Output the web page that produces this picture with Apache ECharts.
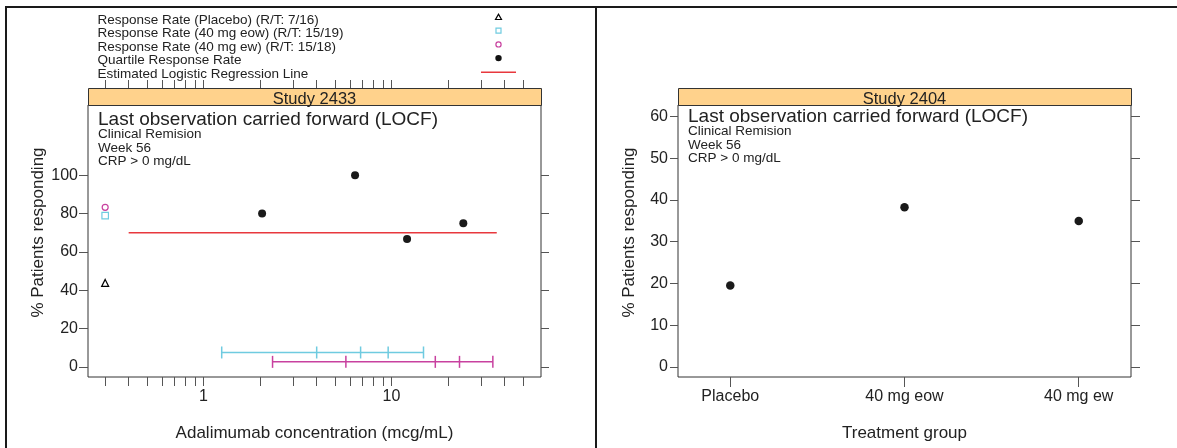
<!DOCTYPE html>
<html><head><meta charset="utf-8">
<script src="https://cdn.jsdelivr.net/npm/echarts@6/dist/echarts.min.js"></script>
<style>html,body{margin:0;padding:0;background:#fff}#c{width:1177px;height:448px}</style>
</head><body><div id="c"></div><script>
// ---------- data ----------
const legendLabels = [
  'Response Rate (Placebo) (R/T: 7/16)',
  'Response Rate (40 mg eow) (R/T: 15/19)',
  'Response Rate (40 mg ew) (R/T: 15/18)',
  'Quartile Response Rate',
  'Estimated Logistic Regression Line'
];
const studyTitles = ['Study 2433', 'Study 2404'];
const annotationLines = ['Last observation carried forward (LOCF)', 'Clinical Remision', 'Week 56', 'CRP > 0 mg/dL'];
const xTitles = ['Adalimumab concentration (mcg/mL)', 'Treatment group'];
const yTitle = '% Patients responding';

const concTickValues = [0.3, 0.4, 0.5, 0.6, 0.7, 0.8, 0.9, 1, 2, 3, 4, 5, 6, 7, 8, 9, 10, 20, 30, 40, 50];
const concLabelValues = [1, 10];
const leftRateTicks = [0, 20, 40, 60, 80, 100];
const rightRateTicks = [0, 10, 20, 30, 40, 50, 60];

const referenceConc = [0.3];
const placeboRate = [43.8];
const eowRate = [78.9];
const ewRate = [83.3];
const quartileConc = [2.05, 6.4, 12.1, 24.1];
const quartileRate = [80, 100, 66.7, 75];
const regressionConc = [0.4, 36.3];
const regressionRate = [70, 70];
const eowQuantiles = [1.25, 4.0, 6.85, 9.6, 14.8];
const eowBarLevel = [7.5];
const ewQuantiles = [2.33, 5.72, 17.1, 23.0, 34.6];
const ewBarLevel = [2.6];

const groupNames = ['Placebo', '40 mg eow', '40 mg ew'];
const groupPositions = [1, 2, 3];
const groupRates = [19.5, 38.3, 35.0];

// ---------- style / layout ----------
const FONT = '"Liberation Sans", Arial, Helvetica, sans-serif';
const INK = '#222';
const AX = '#333';
const TICK = '#555';
const CYAN = '#6fcbe0';
const MAG = '#c8419f';
const RED = '#e8383d';
const STRIP = '#ffd28c';
const P1 = {x: 88, y: 105, w: 453, h: 272};
const P2 = {x: 678, y: 105, w: 453, h: 272};
const STRIP_H = 17;

const chart = echarts.init(document.getElementById('c'), null, {renderer: 'canvas'});

function txt(x, y, s, size, align, extra) {
  return Object.assign({type: 'text', x: x, y: y, silent: true, z: 10,
    style: {text: s, fill: INK, font: size + 'px ' + FONT, textAlign: align || 'left', textVerticalAlign: 'middle'}}, extra || {});
}

const graphics = [];
// outer frame
graphics.push({type: 'line', shape: {x1: 6, y1: 7, x2: 1177, y2: 7}, style: {stroke: '#1a1a1a', lineWidth: 2}});
graphics.push({type: 'line', shape: {x1: 6, y1: 6, x2: 6, y2: 448}, style: {stroke: '#1a1a1a', lineWidth: 2}});
graphics.push({type: 'line', shape: {x1: 596, y1: 6, x2: 596, y2: 448}, style: {stroke: '#1a1a1a', lineWidth: 2}});
// strips
[P1, P2].forEach((p, i) => {
  graphics.push({type: 'rect', shape: {x: p.x + 0.5, y: p.y - STRIP_H + 0.5, width: p.w, height: STRIP_H},
    style: {fill: STRIP, stroke: AX, lineWidth: 1}, z: 1});
  graphics.push(txt(p.x + p.w / 2, p.y - 5.5, studyTitles[i], 16.5, 'center', {z: 2}));
});
// panel annotations
[[P1, 0], [P2, -3]].forEach(([p, dy]) => {
  graphics.push(txt(p.x + 10, 120 + dy, annotationLines[0], 19, 'left'));
  graphics.push(txt(p.x + 10, 134.5 + dy, annotationLines[1], 13.5, 'left'));
  graphics.push(txt(p.x + 10, 148 + dy, annotationLines[2], 13.5, 'left'));
  graphics.push(txt(p.x + 10, 161.5 + dy, annotationLines[3], 13.5, 'left'));
});
// axis titles
graphics.push(txt(P1.x + P1.w / 2, 433, xTitles[0], 17, 'center'));
graphics.push(txt(P2.x + P2.w / 2, 433, xTitles[1], 17, 'center'));
graphics.push(txt(38, 232.5, yTitle, 17, 'center', {rotation: Math.PI / 2}));
graphics.push(txt(629, 232.5, yTitle, 17, 'center', {rotation: Math.PI / 2}));
// legend
const legX = 97.5, symX = 498.5;
legendLabels.forEach((s, i) => graphics.push(txt(legX, 20 + 13.45 * i, s, 13.5, 'left')));
const sy = i => 17 + 13.7 * i;
graphics.push({type: 'polygon', shape: {points: [[symX - 3, sy(0) + 2.5], [symX + 3, sy(0) + 2.5], [symX, sy(0) - 2.8]]},
  style: {fill: 'none', stroke: '#000', lineWidth: 1.2}});
graphics.push({type: 'rect', shape: {x: symX - 2.5, y: sy(1) - 2.5, width: 5, height: 5}, style: {fill: 'none', stroke: CYAN, lineWidth: 1.2}});
graphics.push({type: 'circle', shape: {cx: symX, cy: sy(2), r: 2.6}, style: {fill: 'none', stroke: MAG, lineWidth: 1.2}});
graphics.push({type: 'circle', shape: {cx: symX, cy: sy(3), r: 3.2}, style: {fill: '#111'}});
graphics.push({type: 'line', shape: {x1: 481, y1: sy(4) + 0.5, x2: 516, y2: sy(4) + 0.5}, style: {stroke: RED, lineWidth: 1.5}});

const axisFont = {fontSize: 16, color: INK, fontFamily: FONT};
const tickStyle = {color: TICK, width: 1};
const noLine = {show: false, onZero: false};

const option = {
  animation: false,
  backgroundColor: '#fff',
  grid: [
    {left: P1.x, top: P1.y, width: P1.w, height: P1.h, show: true, borderColor: AX, borderWidth: 1, backgroundColor: 'transparent', containLabel: false},
    {left: P2.x, top: P2.y, width: P2.w, height: P2.h, show: true, borderColor: AX, borderWidth: 1, backgroundColor: 'transparent', containLabel: false}
  ],
  xAxis: [
    {gridIndex: 0, type: 'log', logBase: 10, min: 0.2431, max: 62.4, position: 'bottom',
      axisLine: noLine, splitLine: {show: false},
      axisTick: {show: true, customValues: concTickValues, length: 9, lineStyle: tickStyle},
      axisLabel: Object.assign({customValues: concLabelValues, margin: 12, formatter: v => String(v)}, axisFont)},
    {gridIndex: 0, type: 'log', logBase: 10, min: 0.2431, max: 62.4, position: 'top', offset: STRIP_H,
      axisLine: noLine, splitLine: {show: false},
      axisTick: {show: true, customValues: concTickValues, length: 8, lineStyle: tickStyle},
      axisLabel: {show: false}},
    {gridIndex: 1, type: 'value', min: 0.7, max: 3.3, position: 'bottom',
      axisLine: noLine, splitLine: {show: false},
      axisTick: {show: true, customValues: groupPositions, length: 10, lineStyle: tickStyle},
      axisLabel: Object.assign({customValues: groupPositions, margin: 12,
        formatter: v => groupNames[groupPositions.indexOf(v)]}, axisFont)}
  ],
  yAxis: [
    {gridIndex: 0, type: 'value', min: -5.3, max: 136.7, position: 'left',
      axisLine: noLine, splitLine: {show: false},
      axisTick: {show: true, customValues: leftRateTicks, length: 9, lineStyle: tickStyle},
      axisLabel: Object.assign({customValues: leftRateTicks, margin: 10}, axisFont)},
    {gridIndex: 0, type: 'value', min: -5.3, max: 136.7, position: 'right',
      axisLine: noLine, splitLine: {show: false},
      axisTick: {show: true, customValues: leftRateTicks, length: 8, lineStyle: tickStyle},
      axisLabel: {show: false}},
    {gridIndex: 1, type: 'value', min: -2.45, max: 62.8, position: 'left',
      axisLine: noLine, splitLine: {show: false},
      axisTick: {show: true, customValues: rightRateTicks, length: 8, lineStyle: tickStyle},
      axisLabel: Object.assign({customValues: rightRateTicks, margin: 10}, axisFont)},
    {gridIndex: 1, type: 'value', min: -2.45, max: 62.8, position: 'right',
      axisLine: noLine, splitLine: {show: false},
      axisTick: {show: true, customValues: rightRateTicks, length: 9, lineStyle: tickStyle},
      axisLabel: {show: false}}
  ],
  series: [
    {type: 'line', xAxisIndex: 0, yAxisIndex: 0, data: regressionConc.map((c, i) => [c, regressionRate[i]]),
      showSymbol: false, lineStyle: {color: RED, width: 1.3}, silent: true},
    {type: 'line', xAxisIndex: 0, yAxisIndex: 0, data: [[eowQuantiles[0], eowBarLevel[0]], [eowQuantiles[4], eowBarLevel[0]]],
      showSymbol: false, lineStyle: {color: CYAN, width: 1.5}, silent: true},
    {type: 'scatter', xAxisIndex: 0, yAxisIndex: 0, data: eowQuantiles.map(c => [c, eowBarLevel[0]]),
      symbol: 'rect', symbolSize: [1.5, 12], itemStyle: {color: CYAN, opacity: 1}, silent: true},
    {type: 'line', xAxisIndex: 0, yAxisIndex: 0, data: [[ewQuantiles[0], ewBarLevel[0]], [ewQuantiles[4], ewBarLevel[0]]],
      showSymbol: false, lineStyle: {color: MAG, width: 1.5}, silent: true},
    {type: 'scatter', xAxisIndex: 0, yAxisIndex: 0, data: ewQuantiles.map(c => [c, ewBarLevel[0]]),
      symbol: 'rect', symbolSize: [1.5, 12], itemStyle: {color: MAG, opacity: 1}, silent: true},
    {type: 'scatter', xAxisIndex: 0, yAxisIndex: 0, data: referenceConc.map((c, i) => [c, placeboRate[i]]),
      symbol: 'triangle', symbolSize: 7, itemStyle: {color: 'rgba(0,0,0,0)', borderColor: '#000', borderWidth: 1.2, opacity: 1}, silent: true},
    {type: 'scatter', xAxisIndex: 0, yAxisIndex: 0, data: referenceConc.map((c, i) => [c, eowRate[i]]),
      symbol: 'rect', symbolSize: 6.5, itemStyle: {color: 'rgba(0,0,0,0)', borderColor: CYAN, borderWidth: 1.2, opacity: 1}, silent: true},
    {type: 'scatter', xAxisIndex: 0, yAxisIndex: 0, data: referenceConc.map((c, i) => [c, ewRate[i]]),
      symbol: 'circle', symbolSize: 6, itemStyle: {color: 'rgba(0,0,0,0)', borderColor: MAG, borderWidth: 1.2, opacity: 1}, silent: true},
    {type: 'scatter', xAxisIndex: 0, yAxisIndex: 0, data: quartileConc.map((c, i) => [c, quartileRate[i]]),
      symbol: 'circle', symbolSize: 8, itemStyle: {color: '#1a1a1a', opacity: 1}, silent: true},
    {type: 'scatter', xAxisIndex: 2, yAxisIndex: 2, data: groupPositions.map((p, i) => [p, groupRates[i]]),
      symbol: 'circle', symbolSize: 8.5, itemStyle: {color: '#1a1a1a', opacity: 1}, silent: true}
  ],
  graphic: graphics
};
chart.setOption(option);
</script></body></html>
